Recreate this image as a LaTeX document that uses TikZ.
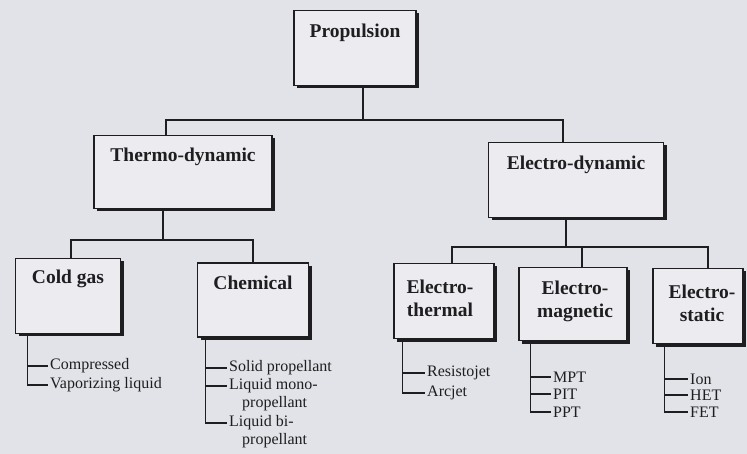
\documentclass[tikz,border=0pt]{standalone}
\usepackage{fontspec}
\setmainfont{Liberation Serif}
\usetikzlibrary{positioning,shadows}
\definecolor{paper}{RGB}{226,227,232}
\definecolor{boxfill}{RGB}{236,236,240}
\definecolor{ink}{RGB}{30,30,32}
\tikzset{
  blk/.style={draw=ink,fill=boxfill,line width=1.2pt,inner sep=0pt,drop shadow={shadow xshift=3pt,shadow yshift=-3pt,fill=ink,opacity=1}},
  ttl/.style={font=\fontsize{19.5}{23}\selectfont\bfseries,text=ink,align=center,inner sep=0pt},
  leaf/.style={font=\fontsize{16}{18}\selectfont,text=ink,anchor=west,inner xsep=2pt,inner ysep=0pt},
  lnk/.style={draw=ink,line width=1.1pt},
  twig/.style={draw=ink,line width=1.1pt},
}
\begin{document}
\begin{tikzpicture}[x=1pt,y=-1pt]
  \fill[paper] (0,0) rectangle (747,454);
  \useasboundingbox (0,0) rectangle (747,454);
  % boxes
  \node[blk,minimum width=122pt,minimum height=75pt] (prop) at (355,48) {};
  \node[blk,minimum width=178pt,minimum height=73pt] (thermo) at (183,172) {};
  \node[blk,minimum width=175pt,minimum height=75pt] (elec) at (576,180) {};
  \node[blk,minimum width=105pt,minimum height=75pt] (cold) at (68,296) {};
  \node[blk,minimum width=111pt,minimum height=74pt] (chem) at (253,300) {};
  \node[blk,minimum width=100pt,minimum height=75pt] (ethermal) at (444,301) {};
  \node[blk,minimum width=108pt,minimum height=73pt] (emag) at (573,304) {};
  \node[blk,minimum width=90pt,minimum height=75pt] (estat) at (698,306) {};
  % titles
  \node[ttl] (prop-t) at ([yshift=-23pt]prop.north) {Propulsion};
  \node[ttl] (thermo-t) at ([yshift=-22pt]thermo.north) {Thermo-dynamic};
  \node[ttl] (elec-t) at ([yshift=-23pt]elec.north) {Electro-dynamic};
  \node[ttl] (cold-t) at ([yshift=-21pt]cold.north) {Cold gas};
  \node[ttl] (chem-t) at ([yshift=-20pt]chem.north) {Chemical};
  \node[ttl] (ethermal-t) at ([xshift=-4pt,yshift=-35pt]ethermal.north) {Electro-\\thermal};
  \node[ttl] (emag-t) at ([xshift=2pt,yshift=-34pt]emag.north) {Electro-\\magnetic};
  \node[ttl] (estat-t) at ([xshift=4pt,yshift=-35pt]estat.north) {Electro-\\static};
  % tree
  \coordinate (bar1) at ([xshift=8pt]prop.south |- 0,120);
  \draw[lnk] ([xshift=8pt]prop.south) -- (bar1);
  \draw[lnk] ([xshift=-17pt]thermo.north) |- (bar1) -| ([xshift=-13pt]elec.north);
  \coordinate (bar2) at ([xshift=-20pt]thermo.south |- 0,240);
  \draw[lnk] ([xshift=-20pt]thermo.south) -- (bar2);
  \draw[lnk] ([xshift=3pt]cold.north) |- (bar2) -| (chem.north);
  \coordinate (bar3) at ([xshift=-10pt]elec.south |- 0,247);
  \draw[lnk] ([xshift=-10pt]elec.south) -- (bar3);
  \draw[lnk] ([xshift=8pt]ethermal.north) |- (bar3) -| ([xshift=10pt]estat.north);
  \draw[lnk] ([xshift=9pt]emag.north) |- (bar3);
  % leaves
  \node[leaf] (cg1) at (48,366) {Compressed};
  \node[leaf] (cg2) at (48,385) {Vaporizing liquid};
  \node[leaf] (ch1) at (227,368) {Solid propellant};
  \node[leaf] (ch2) at (227,386) {Liquid mono-};
  \node[leaf] (ch2b) at (240,404) {propellant};
  \node[leaf] (ch3) at (227,423) {Liquid bi-};
  \node[leaf] (ch3b) at (240,441) {propellant};
  \node[leaf] (et1) at (425,373) {Resistojet};
  \node[leaf] (et2) at (425,393) {Arcjet};
  \node[leaf] (em1) at (551,377) {MPT};
  \node[leaf] (em2) at (551,394) {PIT};
  \node[leaf] (em3) at (551,412) {PPT};
  \node[leaf] (es1) at (688,379) {Ion};
  \node[leaf] (es2) at (688,395) {HET};
  \node[leaf] (es3) at (688,412) {FET};
  \coordinate (cold-sp) at ([xshift=13pt]cold.south west);
  \coordinate (chem-sp) at ([xshift=9pt]chem.south west);
  \coordinate (ethermal-sp) at ([xshift=9pt]ethermal.south west);
  \coordinate (emag-sp) at ([xshift=12pt]emag.south west);
  \coordinate (estat-sp) at ([xshift=12pt]estat.south west);
  \foreach \b/\l in {cold/cg2,chem/ch3,ethermal/et2,emag/em3,estat/es3}
    \draw[twig] (\b-sp) |- (\l.west);
  \foreach \b/\l in {cold/cg1,chem/ch1,chem/ch2,ethermal/et1,emag/em1,emag/em2,estat/es1,estat/es2}
    \draw[twig] (\l.west -| \b-sp) -- (\l.west);
\end{tikzpicture}
\end{document}
